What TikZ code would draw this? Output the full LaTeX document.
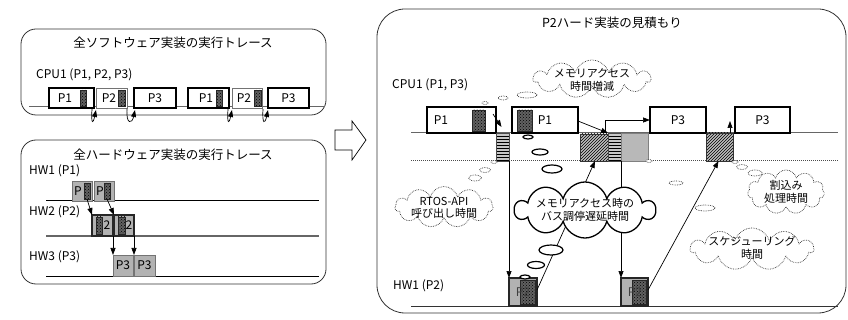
\documentclass[tikz,border=0pt]{standalone}
\usepackage{fontspec}
\setmainfont{Noto Sans CJK JP}
\usetikzlibrary{shapes.symbols,shapes.geometric,patterns,arrows.meta,calc}
\newcommand\rbox[7]{\node[#6,anchor=north west,inner sep=0pt,outer sep=0pt,minimum width={(#4)-(#2)},minimum height={(#5)-(#3)}] (#1) at (#2,#3) {#7};}
\tikzset{
  frame/.style={draw=black!80,line width=0.8pt,rounded corners=15pt},
  title/.style={font=\fontsize{12.5}{14}\selectfont,inner sep=0pt},
  lbl/.style={font=\fontsize{12}{14}\selectfont,inner sep=0pt},
  ctext/.style={font=\fontsize{11}{12.5}\selectfont,inner sep=0pt,align=center},
  thickbox/.style={draw=black,line width=1.6pt,fill=white},
  thinbox/.style={draw=black!55,line width=0.8pt,fill=white},
  darkbar/.style={preaction={fill=black!62},pattern=crosshatch dots,draw=black!85,line width=0.5pt},
  graybox/.style={fill=black!30,draw=black!55,line width=0.8pt},
  grayboxdk/.style={fill=black!30,draw=black!85,line width=1.4pt},
  stripebox/.style={preaction={fill=black!22},pattern=horizontal lines,draw=black!70,line width=0.5pt},
  hatchbox/.style={preaction={fill=black!25},pattern=north east lines,draw=black!80,line width=0.5pt},
  lightbox/.style={fill=black!28,draw=black!50,line width=0.5pt},
  base/.style={draw=black!60,line width=1pt},
  arr/.style={-{Triangle[length=7pt,width=5pt]},line width=0.7pt},
  dcloud/.style={cloud,cloud ignores aspect,draw=black!80,densely dotted,line width=0.7pt,fill=white,inner sep=0pt,cloud puffs=11},
  scloud/.style={cloud,cloud ignores aspect,draw=black,line width=1.3pt,fill=white,inner sep=0pt,cloud puffs=10},
  dbub/.style={ellipse,draw=black!80,densely dotted,line width=0.7pt,fill=white,inner sep=0pt},
  sbub/.style={ellipse,draw=black,line width=1.2pt,fill=white,inner sep=0pt},
}
\begin{document}
\begin{tikzpicture}[x=1pt,y=-1pt,font=\fontsize{12}{14}\selectfont]
\useasboundingbox (0,0) rectangle (848,320);
% ---------- left top: software trace
\rbox{swframe}{21}{29}{326}{115}{frame}{}
\node[title] (swtitle) at (173,43) {全ソフトウェア実装の実行トレース};
\node[lbl,anchor=west] (cpuA) at (36,75) {CPU1 (P1, P2, P3)};
\draw[base] (29,107) -- (325,107);
\rbox{sa1}{49}{88}{94}{108}{thickbox}{}
\rbox{sa1b}{80}{90}{86}{106}{darkbar}{}
\node[lbl] (sa1t) at (65,98) {P1};
\rbox{sa2}{96}{88}{127}{108}{thinbox}{}
\rbox{sa2b}{118}{90}{125}{106}{darkbar}{}
\node[lbl] (sa2t) at (109,98) {P2};
\rbox{sa3}{134}{88}{176}{108}{thickbox}{P3}
\rbox{sa4}{188}{88}{229}{108}{thickbox}{}
\rbox{sa4b}{216}{90}{222}{106}{darkbar}{}
\node[lbl] (sa4t) at (206,98) {P1};
\rbox{sa5}{232}{88}{262}{108}{thinbox}{}
\rbox{sa5b}{254}{90}{261}{106}{darkbar}{}
\node[lbl] (sa5t) at (244,98) {P2};
\rbox{sa6}{268}{88}{309}{108}{thickbox}{P3}
\draw[arr] ($(sa1.south east)+(-2,1)$) .. controls +(-1,16) and +(-3,14) .. ($(sa2.south west)+(0,2)$);
\draw[arr] ($(sa2.south east)+(0,1)$) .. controls +(-1,16) and +(-3,14) .. ($(sa3.south west)+(1,2)$);
\draw[arr] ($(sa4.south east)+(-1,1)$) .. controls +(-1,16) and +(-3,14) .. ($(sa5.south west)+(0,2)$);
\draw[arr] ($(sa5.south east)+(1,1)$) .. controls +(-1,16) and +(-3,14) .. ($(sa6.south west)+(0,2)$);
% ---------- left bottom: hardware trace
\rbox{hwframe}{21}{140}{326}{284}{frame}{}
\node[title] (hwtitle) at (173,155) {全ハードウェア実装の実行トレース};
\node[lbl,anchor=west] (hw1l) at (29,171) {HW1 (P1)};
\node[lbl,anchor=west] (hw2l) at (29,212) {HW2 (P2)};
\node[lbl,anchor=west] (hw3l) at (29,257) {HW3 (P3)};
\draw[base,draw=black] (46,201) -- (319,201);
\draw[base,line width=1.4pt] (46,236) -- (319,236);
\draw[base,draw=black] (46,276) -- (319,276);
\rbox{hb1}{72}{181}{92}{201}{graybox}{}
\node[lbl] (hb1t) at (78,191) {P};
\rbox{hb1b}{84}{183}{90}{199}{darkbar}{}
\rbox{hb2}{94}{181}{114}{201}{graybox}{}
\node[lbl] (hb2t) at (100,191) {P};
\rbox{hb2b}{104}{183}{110}{199}{darkbar}{}
\rbox{hc1}{92}{215}{113}{236}{grayboxdk}{}
\rbox{hc1b}{96}{217}{102}{234}{darkbar}{}
\node[lbl] (hc1t) at (107,225.5) {2};
\rbox{hc2}{114}{215}{134}{236}{grayboxdk}{}
\rbox{hc2b}{118}{217}{125}{234}{darkbar}{}
\node[lbl] (hc2t) at (129,225.5) {2};
\rbox{hd1}{113}{255}{133}{276}{graybox}{P3}
\rbox{hd2}{134}{255}{155}{276}{graybox}{P3}
\draw[arr] (hb1b.south) -- (hc1.north west);
\draw[arr] (hb2b.south) -- (hc2.north west);
\draw[arr] (hc1.south east) -- (hd1.north west);
\draw[arr] (hc2.south east) -- (hd2.north west);
% ---------- big hollow arrow
\draw[line width=0.7pt,fill=white] (335,130) -- (352,130) -- (352,121) -- (366,140) -- (352,160) -- (352,150) -- (335,150) -- cycle;
% ---------- right: estimate
\rbox{est}{377}{9}{846}{313}{frame,rounded corners=28pt}{}
\node[title] (esttitle) at (612,23) {P2ハード実装の見積もり};
\node[lbl,anchor=west] (cpuB) at (392,85) {CPU1 (P1, P3)};
\node[lbl,anchor=west] (hwB) at (393,286) {HW1 (P2)};
\draw[base] (411,133) -- (838,133);
\draw[draw=black!70,densely dotted,line width=1pt] (411,161) -- (838,161);
\draw[base,draw=black!80] (411,306) -- (838,306);
\rbox{ra1}{427}{107}{496}{133}{thickbox}{}
\node[lbl] (ra1t) at (441,120) {P1};
\rbox{ra1b}{472}{110}{485}{131}{darkbar}{}
\rbox{ra2}{496}{133}{509}{161}{stripebox}{}
\rbox{ra3}{512}{107}{578}{133}{thickbox}{}
\rbox{ra3b}{517}{110}{532}{131}{darkbar}{}
\node[lbl] (ra3t) at (545,120) {P1};
\rbox{ra4}{580}{134}{608}{161}{hatchbox}{}
\rbox{ra5}{608}{133}{621}{161}{stripebox}{}
\rbox{ra6}{621}{133}{648}{161}{lightbox}{}
\rbox{ra7}{650}{107}{706}{133}{thickbox}{P3}
\rbox{ra8}{706}{133}{733}{161}{hatchbox}{}
\rbox{ra9}{735}{107}{790}{133}{thickbox}{P3}
\rbox{hwa}{509}{278}{537}{306}{grayboxdk}{}
\rbox{hwab}{520}{280}{535}{304}{darkbar}{}
\node[lbl,text=black!75] (hwat) at (523,292) {P2};
\rbox{hwb}{621}{278}{648}{306}{grayboxdk}{}
\rbox{hwbb}{632}{280}{646}{304}{darkbar}{}
\node[lbl,text=black!75] (hwbt) at (635,292) {P2};
% arrows
\draw[arr] ($(ra1.east)+(-3,-6)$) -- ($(ra2.north)+(-1,-6)$);
\draw[arr] ($(ra3.east)+(0,1)$) -- (ra5.north west);
\draw[arr] ($(ra5.north west)+(-3,0)$) |- (ra7.west);
\draw[arr] ($(ra8.north east)+(-3,0)$) -- ($(ra9.west)+(-5,1)$);
\draw[arr] (ra2.south east) -- (hwa.north west);
\draw[arr] (ra6.south west) -- (hwb.north west);
\draw[arr] ($(hwa.east)+(0,-2)$) -- ($(ra4.south)+(1,0)$);
\draw[arr] ($(hwb.east)+(0,-2)$) -- ($(ra8.south)+(-1,0)$);
% clouds
\node[dcloud,minimum width=117pt,minimum height=38pt] (cmem) at (592,79) {};
\node[ctext] (cmemt) at (592,80) {メモリアクセス\\時間増減};
\node[dbub,minimum width=20pt,minimum height=6pt] (cm1) at (527,95) {};
\node[dbub,minimum width=10pt,minimum height=4pt] (cm2) at (503,98) {};
\node[dbub,minimum width=6pt,minimum height=3pt] (cm3) at (485,103) {};
\node[scloud,minimum width=140pt,minimum height=56pt] (cbus) at (585,210) {};
\node[ctext] (cbust) at (585,210) {メモリアクセス時の\\バス調停遅延時間};
\node[sbub,minimum width=20pt,minimum height=8pt] (cb1) at (552,169) {};
\node[sbub,minimum width=16pt,minimum height=6pt] (cb2) at (540,152) {};
\node[sbub,minimum width=10pt,minimum height=4pt] (cb3) at (528,137) {};
\node[sbub,minimum width=24pt,minimum height=10pt] (cb4) at (551,250) {};
\node[sbub,minimum width=17pt,minimum height=7pt] (cb5) at (536,265) {};
\node[sbub,minimum width=10pt,minimum height=4pt] (cb6) at (525,277) {};
\node[dcloud,minimum width=98pt,minimum height=41pt] (crtos) at (444,207) {};
\node[ctext] (crtost) at (444,208) {RTOS-API\\呼び出し時間};
\node[dbub,minimum width=13pt,minimum height=6pt] (cr1) at (475,178) {};
\node[dbub,minimum width=11pt,minimum height=5pt] (cr2) at (485,170) {};
\node[dbub,minimum width=6pt,minimum height=3pt] (cr3) at (494,162) {};
\node[dcloud,minimum width=77pt,minimum height=44pt] (cint) at (786,192) {};
\node[ctext] (cintt) at (786,192) {割込み\\処理時間};
\node[dbub,minimum width=14pt,minimum height=6pt] (ci1) at (755,173) {};
\node[dbub,minimum width=11pt,minimum height=5pt] (ci2) at (742,167) {};
\node[dbub,minimum width=6pt,minimum height=3pt] (ci3) at (735,162) {};
\node[dcloud,minimum width=123pt,minimum height=42pt] (csch) at (752,249) {};
\node[ctext] (cscht) at (752,248) {スケジューリング\\時間};
\node[dbub,minimum width=20pt,minimum height=6pt] (cs1) at (705,208) {};
\node[dbub,minimum width=14pt,minimum height=4pt] (cs2) at (676,183) {};
\node[dbub,minimum width=6pt,minimum height=3pt] (cs3) at (649,161) {};
\end{tikzpicture}
\end{document}
